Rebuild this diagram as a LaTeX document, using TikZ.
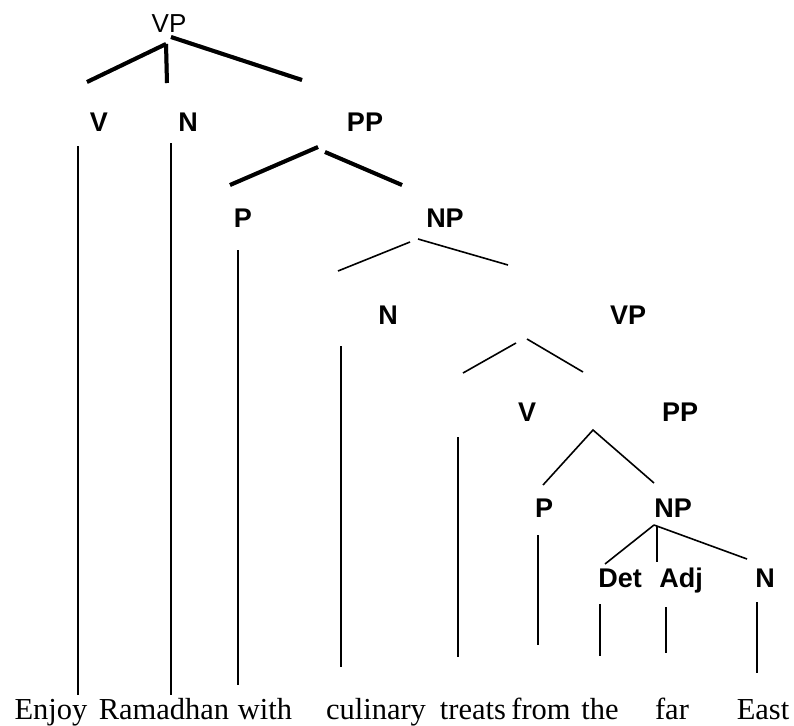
\documentclass[tikz,border=0pt]{standalone}
\usepackage{fontspec}
\setmainfont{Liberation Serif}
\newfontfamily\arialf{Liberation Sans}
\begin{document}
\begin{tikzpicture}[x=1pt,y=-1pt,
  cat/.style={font=\arialf\bfseries\fontsize{27}{27}\selectfont,inner sep=0pt,anchor=base},
  word/.style={font=\fontsize{30.5}{30.5}\selectfont,inner sep=0pt,anchor=base},
  thin/.style={line width=1.6pt},
  thick/.style={line width=4pt},
  shadow/.style={line width=4pt,draw=gray!70}]
\useasboundingbox (0,0) rectangle (794,725);
% labels
\node[font=\arialf\fontsize{26}{26}\selectfont,inner sep=0pt,anchor=base] (vp1) at (169,33) {VP};
\node[cat] (v1) at (99,131) {V};
\node[cat] (n1) at (188,131) {N};
\node[cat] (pp1) at (365,131) {PP};
\node[cat] (p1) at (243,227) {P};
\node[cat] (np1) at (445,227) {NP};
\node[cat] (n2) at (388,324) {N};
\node[cat] (vp2) at (628,324) {VP};
\node[cat] (v2) at (527,421) {V};
\node[cat] (pp2) at (680,421) {PP};
\node[cat] (p2) at (544,517) {P};
\node[cat] (np2) at (673,517) {NP};
\node[cat] (det) at (620,587) {Det};
\node[cat] (adj) at (681,587) {Adj};
\node[cat] (n3) at (765,587) {N};
% words
\node[word] (w1) at (51,719) {Enjoy};
\node[word] (w2) at (164,719) {Ramadhan};
\node[word] (w3) at (265,719) {with};
\node[word] (w4) at (376,719) {culinary};
\node[word] (w5) at (473,719) {treats};
\node[word] (w6) at (541,719) {from};
\node[word] (w7) at (600,719) {the};
\node[word] (w8) at (672,719) {far};
\node[word] (w9) at (763,719) {East};
% thick branches (VP, PP)
\coordinate (a0) at (166,44); \coordinate (a1) at (87,82);
\coordinate (a2) at (167,83); \coordinate (a3) at (171,37);
\coordinate (a4) at (302,80);
\coordinate (b0) at (318,147); \coordinate (b1) at (230,185);
\coordinate (b2) at (325,152); \coordinate (b3) at (402,185);
\begin{scope}[shift={(1.5,2)}]
\draw[shadow] (a0) -- (a1);
\draw[shadow] (a0) -- (a2);
\draw[shadow] (a3) -- (a4);
\draw[shadow] (b0) -- (b1);
\draw[shadow] (b2) -- (b3);
\end{scope}
\draw[thick] (a0) -- (a1);
\draw[thick] (a0) -- (a2);
\draw[thick] (a3) -- (a4);
\draw[thick] (b0) -- (b1);
\draw[thick] (b2) -- (b3);
% thin branches
\coordinate (c0) at (410,242); \coordinate (c1) at (338,271);
\coordinate (c2) at (418,239); \coordinate (c3) at (508,265);
\draw[thin] (c0) -- (c1);
\draw[thin] (c2) -- (c3);
\coordinate (d0) at (516,343); \coordinate (d1) at (463,373);
\coordinate (d2) at (527,339); \coordinate (d3) at (583,372);
\draw[thin] (d0) -- (d1);
\draw[thin] (d2) -- (d3);
\coordinate (e0) at (593,430); \coordinate (e1) at (543,485);
\coordinate (e2) at (654,483);
\draw[thin] (e1) -- (e0) -- (e2);
\coordinate (f0) at (654,525); \coordinate (f1) at (605,564);
\coordinate (f2) at (657,526); \coordinate (f3) at (657,562);
\coordinate (f4) at (747,559);
\draw[thin] (f0) -- (f1);
\draw[thin] (f2) -- (f3);
\draw[thin] (f0) -- (f4);
% terminal lines
\coordinate (t1a) at (78,146); \coordinate (t1b) at (78,695);
\coordinate (t2a) at (171,143); \coordinate (t2b) at (171,695);
\coordinate (t3a) at (238,250); \coordinate (t3b) at (238,685);
\coordinate (t4a) at (341,346); \coordinate (t4b) at (341,667);
\coordinate (t5a) at (458,437); \coordinate (t5b) at (458,657);
\coordinate (t6a) at (538,535); \coordinate (t6b) at (538,645);
\coordinate (t7a) at (600,604); \coordinate (t7b) at (600,656);
\coordinate (t8a) at (666,607); \coordinate (t8b) at (666,653);
\coordinate (t9a) at (757,602); \coordinate (t9b) at (757,673);
\foreach \i in {1,...,9} {\draw[thin] (t\i a) -- (t\i b);}
\end{tikzpicture}
\end{document}
